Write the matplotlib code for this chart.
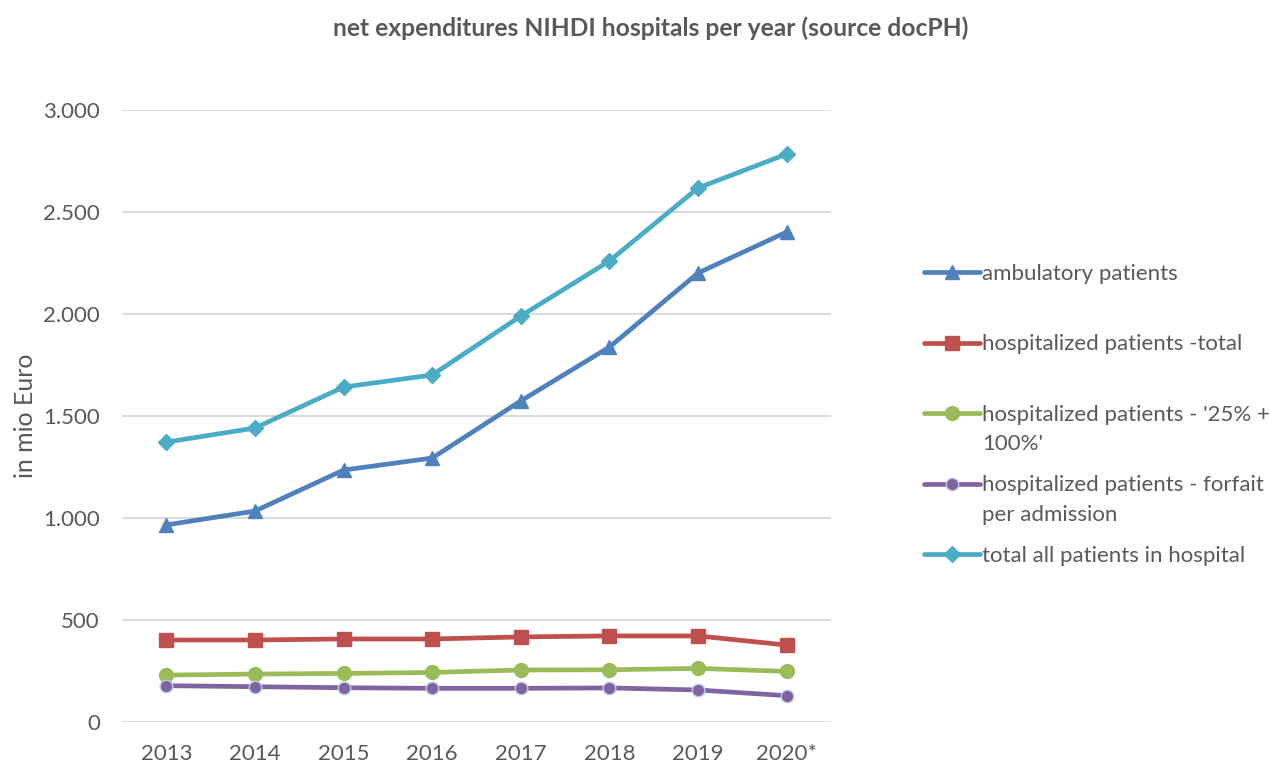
import matplotlib
matplotlib.use("Agg")
import matplotlib.pyplot as plt
from matplotlib.ticker import FuncFormatter

plt.rcParams['font.family'] = ['Lato', 'DejaVu Sans']

years = ["2013", "2014", "2015", "2016", "2017", "2018", "2019", "2020*"]
ambulatory = [966, 1034, 1235, 1294, 1574, 1838, 2201, 2402]
hosp_total = [402, 402, 407, 407, 417, 422, 422, 377]
hosp_25_100 = [230, 235, 238, 243, 255, 256, 263, 248]
hosp_forfait = [178, 173, 168, 165, 165, 167, 157, 129]
total_all = [1372, 1441, 1642, 1701, 1990, 2260, 2618, 2784]

labels = ["ambulatory patients", "hospitalized patients -total",
          "hospitalized patients - '25% +", "hospitalized patients - forfait",
          "total all patients in hospital"]
label_cont = ["", "", "100%'", "per admission", ""]

W, H = 1270, 764
fig = plt.figure(figsize=(W / 100, H / 100), dpi=100)
ax = fig.add_axes([122 / W, 1 - 722 / H, (831 - 122) / W, (722 - 110) / H])

txt = "#595959"
fs = 16
x = list(range(len(years)))
lw = 3.4
series = [
    (ambulatory, "#4F81BD", "^", 10, "#4F81BD"),
    (hosp_total, "#C0504D", "s", 9.5, "#C0504D"),
    (hosp_25_100, "#9BBB59", "o", 10, "#9BBB59"),
    (hosp_forfait, "#8064A2", "o", 9, "#B9CDE5"),
    (total_all, "#4BACC6", "D", 8, "#4BACC6"),
]
handles = []
for (vals, c, m, ms, ec), lab in zip(series, labels):
    h, = ax.plot(x, vals, color=c, lw=lw, marker=m, ms=ms, mfc=c, mec=ec,
                 mew=1.0, label=lab, solid_capstyle="round", zorder=3)
    handles.append(h)

ax.set_ylim(0, 3000)
ax.set_xlim(-0.5, len(years) - 0.5)
ax.set_yticks(range(0, 3001, 500))
ax.yaxis.set_major_formatter(FuncFormatter(lambda v, p: f"{int(v):,}".replace(",", ".")))
ax.set_xticks(x)
ax.set_xticklabels(years)
ax.grid(axis="y", color="#D9D9D9", lw=1.3, zorder=0)
for s in ax.spines.values():
    s.set_visible(False)
ax.tick_params(length=0, labelsize=fs, colors=txt)
ax.tick_params(axis="x", pad=15.5)
ax.tick_params(axis="y", pad=16)
ax.set_ylabel("in mio Euro", fontsize=18, color=txt, labelpad=4.5)

fig.text(651 / W, 1 - 28 / H, "net expenditures NIHDI hospitals per year (source docPH)",
         ha="center", va="center", fontsize=17.75, fontweight="bold", color=txt)

leg = fig.legend(handles=handles, labels=labels, loc="upper left",
                 bbox_to_anchor=(924 / W, 1 - 264 / H), frameon=False,
                 fontsize=fs, labelcolor=txt, handlelength=2.5,
                 handletextpad=0.12, labelspacing=2.27, borderpad=0,
                 borderaxespad=0)
fig.canvas.draw()
r = fig.canvas.get_renderer()
for t, extra in zip(leg.get_texts(), label_cont):
    if extra:
        bb = t.get_window_extent(r)
        fig.text(bb.x0 / W, (bb.y0 + bb.y1) / 2 / H - 29.5 / H, extra, ha="left",
                 va="center", fontsize=fs, color=txt)

fig.savefig("out.png", dpi=100)
